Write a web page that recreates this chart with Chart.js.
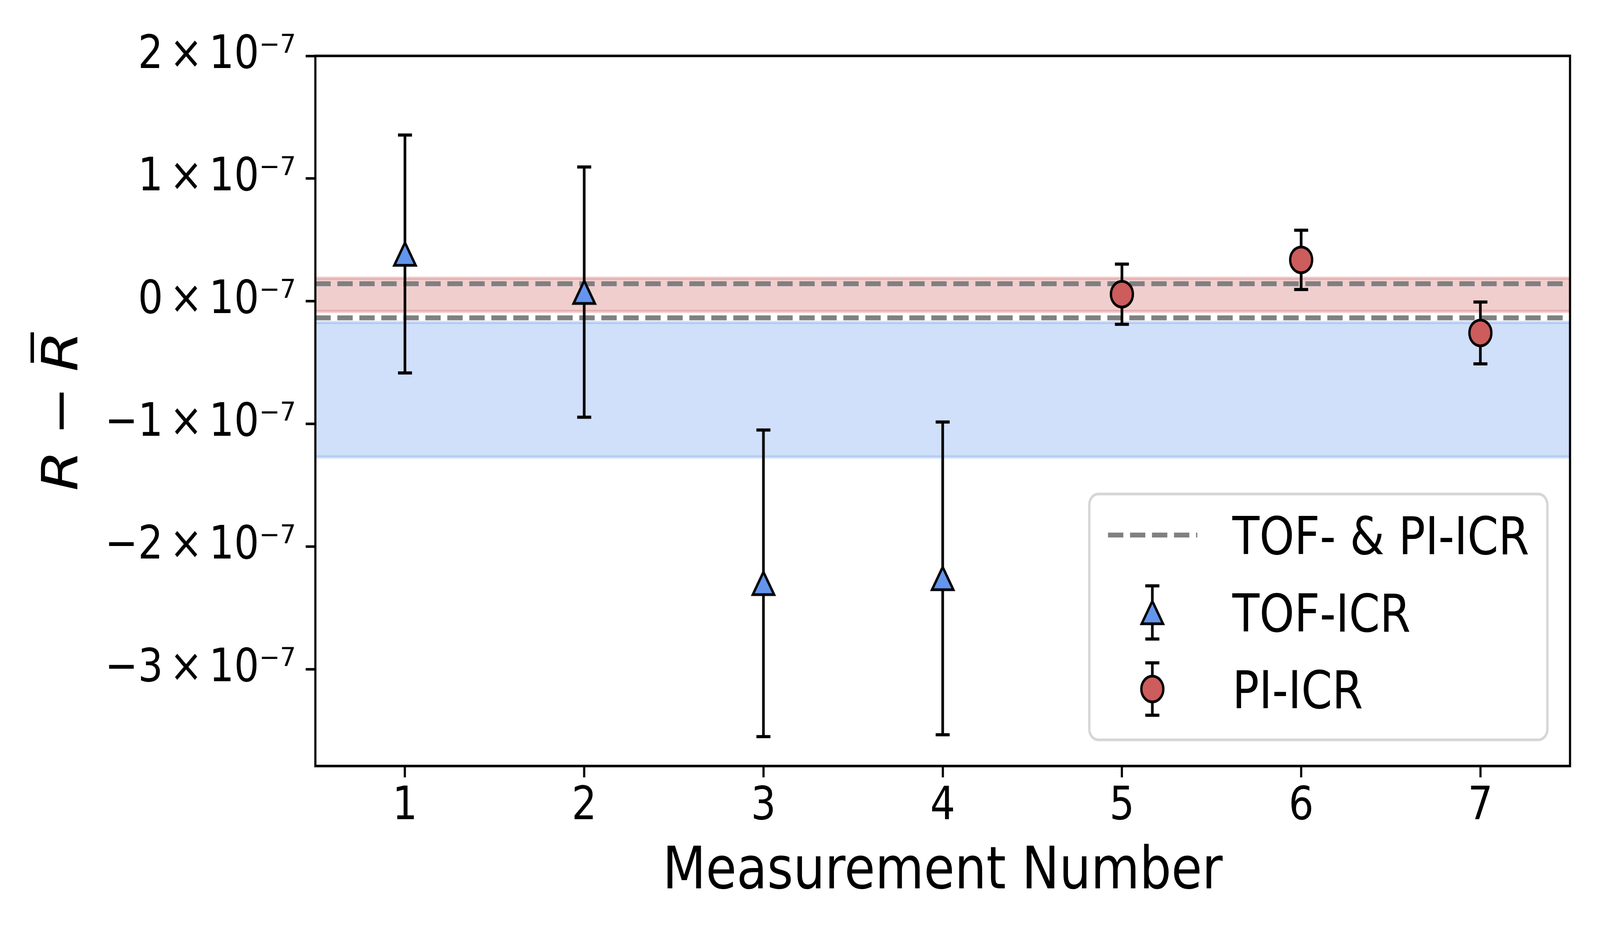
<!DOCTYPE html>
<html>
<head>
<meta charset="utf-8">
<script src="https://cdn.jsdelivr.net/npm/chart.js@4.4.0/dist/chart.umd.min.js"></script>
<style>
  html, body { margin: 0; padding: 0; background: #fff; overflow: hidden; }
  canvas { display: block; }
</style>
</head>
<body>
<canvas id="chart" width="4800" height="2400" style="width:100vw;height:100vh"></canvas>
<script>
// all y values are in units of 1e-7
const tofX = [1, 2, 3, 4];
const tofY = [0.385, 0.074, -2.30, -2.26];
const tofErr = [0.97, 1.02, 1.25, 1.275];
const piX = [5, 6, 7];
const piY = [0.057, 0.337, -0.259];
const piErr = [0.245, 0.242, 0.252];
const tofBand = [-1.27, -0.173];
const piBand = [-0.083, 0.188];
const combinedBand = [-0.136, 0.142];
const xLimits = [0.5, 7.5];
const yLimits = [-3.79, 2];
const xTicks = [1, 2, 3, 4, 5, 6, 7];
const yTicks = [-3, -2, -1, 0, 1, 2];
const seriesLabels = ['TOF- & PI-ICR', 'TOF-ICR', 'PI-ICR'];

const FONT = 'DejaVu Sans';
const BLUE = '#6495ED';
const RED = '#CD5C5C';

function makeTriangle(w, h, lw, fill) {
  const pad = lw * 2;
  const c = document.createElement('canvas');
  c.width = w + 2 * pad;
  c.height = h + 2 * pad;
  const g = c.getContext('2d');
  const cx = c.width / 2, cy = c.height / 2;
  g.beginPath();
  g.moveTo(cx, cy - h / 2);
  g.lineTo(cx + w / 2, cy + h / 2);
  g.lineTo(cx - w / 2, cy + h / 2);
  g.closePath();
  g.fillStyle = fill;
  g.fill();
  g.lineWidth = lw;
  g.lineJoin = 'miter';
  g.strokeStyle = '#000';
  g.stroke();
  return c;
}
const triangle = makeTriangle(64, 58, 7, BLUE);

const hline = (y, extra) => Object.assign({
  type: 'line',
  data: xLimits.map(x => ({ x, y })),
  pointRadius: 0,
  tension: 0,
  borderCapStyle: 'butt',
  clip: 0
}, extra);

const points = (xs, ys) => xs.map((x, i) => ({ x, y: ys[i] }));

function drawErrorBar(ctx, px, top, bot) {
  ctx.beginPath();
  ctx.moveTo(px, top); ctx.lineTo(px, bot);
  ctx.moveTo(px - 21, top); ctx.lineTo(px + 21, top);
  ctx.moveTo(px - 21, bot); ctx.lineTo(px + 21, bot);
  ctx.stroke();
}

const errorBars = {
  id: 'errorBars',
  beforeDatasetDraw(chart, args) {
    const ds = chart.data.datasets[args.index];
    if (!ds.errors) return;
    const { ctx, scales: { x, y } } = chart;
    ctx.save();
    ctx.strokeStyle = '#000';
    ctx.lineWidth = 8;
    ctx.lineCap = 'butt';
    ds.data.forEach((p, i) => {
      drawErrorBar(ctx, x.getPixelForValue(p.x),
        y.getPixelForValue(p.y + ds.errors[i]),
        y.getPixelForValue(p.y - ds.errors[i]));
    });
    ctx.restore();
  }
};

const frame = {
  id: 'frame',
  afterDatasetsDraw(chart) {
    const { ctx, chartArea: a } = chart;
    ctx.save();
    ctx.strokeStyle = '#000';
    ctx.lineWidth = 6.5;
    ctx.strokeRect(a.left, a.top, a.right - a.left, a.bottom - a.top);
    ctx.restore();
  }
};

const legendBox = {
  id: 'legendBox',
  afterDraw(chart) {
    const { ctx, chartArea: a } = chart;
    const ds = chart.data.datasets;
    const w = 1374, h = 629;
    const bx = a.right - 68 - w, by = a.bottom - 67 - h;
    ctx.save();
    ctx.beginPath();
    ctx.roundRect(bx, by, w, h, 27);
    ctx.fillStyle = 'rgba(255,255,255,0.8)';
    ctx.fill();
    ctx.lineWidth = 7;
    ctx.strokeStyle = '#d6d6d6';
    ctx.stroke();

    const rows = [by + 105, by + 303, by + 499];
    const hx = bx + 189;
    // dashed line entry
    const line = ds.find(d => d.label === seriesLabels[0]);
    ctx.strokeStyle = line.borderColor;
    ctx.lineWidth = line.borderWidth;
    ctx.setLineDash(line.borderDash);
    ctx.beginPath();
    ctx.moveTo(bx + 56, rows[0]);
    ctx.lineTo(bx + 324, rows[0]);
    ctx.stroke();
    ctx.setLineDash([]);
    // errorbar entries
    ctx.strokeStyle = '#000';
    ctx.lineWidth = 8;
    drawErrorBar(ctx, hx, rows[1] - 68, rows[1] + 68);
    ctx.drawImage(triangle, hx - triangle.width / 2, rows[1] - triangle.height / 2);
    drawErrorBar(ctx, hx, rows[2] - 67, rows[2] + 67);
    ctx.beginPath();
    ctx.arc(hx, rows[2], 33, 0, Math.PI * 2);
    ctx.fillStyle = RED;
    ctx.fill();
    ctx.lineWidth = 7;
    ctx.stroke();

    ctx.fillStyle = '#000';
    ctx.font = '133px "' + FONT + '"';
    ctx.textAlign = 'left';
    ctx.textBaseline = 'alphabetic';
    seriesLabels.forEach((t, i) => ctx.fillText(t, bx + 429, rows[i] + 48.5));
    ctx.restore();
  }
};

// "n × 10⁻⁷" with narrow spaces, like the mathtext labels
const yLabel = v => {
  const n = Math.round(v);
  return (n < 0 ? '\u2212' + Math.abs(n) : String(n)) + '\u2006\u00d7\u200610\u207b\u2077';
};

new Chart(document.getElementById('chart'), {
  type: 'scatter',
  data: {
    datasets: [
      hline(tofBand[1], { fill: '+1', backgroundColor: 'rgba(100,149,237,0.3)', borderColor: 'rgba(100,149,237,0.3)', borderWidth: 8, order: 6 }),
      hline(tofBand[0], { fill: false, borderColor: 'rgba(100,149,237,0.3)', borderWidth: 8, order: 6 }),
      hline(piBand[1], { fill: '+1', backgroundColor: 'rgba(205,92,92,0.3)', borderColor: 'rgba(205,92,92,0.3)', borderWidth: 8, order: 5 }),
      hline(piBand[0], { fill: false, borderColor: 'rgba(205,92,92,0.3)', borderWidth: 8, order: 5 }),
      hline(combinedBand[1], { label: seriesLabels[0], borderColor: '#808080', borderWidth: 12.5, borderDash: [46, 20], order: 4 }),
      hline(combinedBand[0], { borderColor: '#808080', borderWidth: 12.5, borderDash: [46, 20], order: 4 }),
      {
        label: seriesLabels[1],
        data: points(tofX, tofY),
        errors: tofErr,
        pointStyle: triangle,
        pointRadius: 33,
        order: 2
      },
      {
        label: seriesLabels[2],
        data: points(piX, piY),
        errors: piErr,
        pointStyle: 'circle',
        pointRadius: 33,
        pointBorderWidth: 7,
        pointBackgroundColor: RED,
        pointBorderColor: '#000',
        order: 1
      }
    ]
  },
  options: {
    responsive: false,
    devicePixelRatio: 1,
    animation: false,
    events: [],
    layout: { padding: { left: 0, top: 143, right: 90, bottom: 0 } },
    plugins: { legend: { display: false }, tooltip: { enabled: false } },
    scales: {
      x: {
        type: 'linear',
        min: xLimits[0],
        max: xLimits[1],
        afterBuildTicks: s => { s.ticks = xTicks.map(v => ({ value: v })); },
        afterFit: s => { s.height = 440; },
        ticks: {
          font: { family: FONT, size: 118 },
          color: '#000',
          padding: 6,
          maxRotation: 0,
          autoSkip: false,
          callback: v => String(v)
        },
        grid: { drawOnChartArea: false, drawTicks: true, tickLength: 29, tickWidth: 6.5, tickColor: '#000' },
        border: { display: false },
        title: {
          display: true,
          text: 'Measurement Number',
          color: '#000',
          font: { family: FONT, size: 150 },
          padding: { top: 0, bottom: 76 }
        }
      },
      y: {
        type: 'linear',
        min: yLimits[0],
        max: yLimits[1],
        afterBuildTicks: s => { s.ticks = yTicks.map(v => ({ value: v })); },
        afterFit: s => { s.width = 946; },
        ticks: {
          font: { family: FONT, size: 118 },
          color: '#000',
          padding: 30,
          autoSkip: false,
          callback: yLabel
        },
        grid: { drawOnChartArea: false, drawTicks: true, tickLength: 29, tickWidth: 6.5, tickColor: '#000' },
        border: { display: false },
        title: {
          display: true,
          text: 'R\u2005\u2212\u2005R\u0305',
          color: '#000',
          font: { family: FONT, size: 150, style: 'italic' },
          padding: { top: 103, bottom: 0 }
        }
      }
    }
  },
  plugins: [errorBars, frame, legendBox]
});
</script>
</body>
</html>
